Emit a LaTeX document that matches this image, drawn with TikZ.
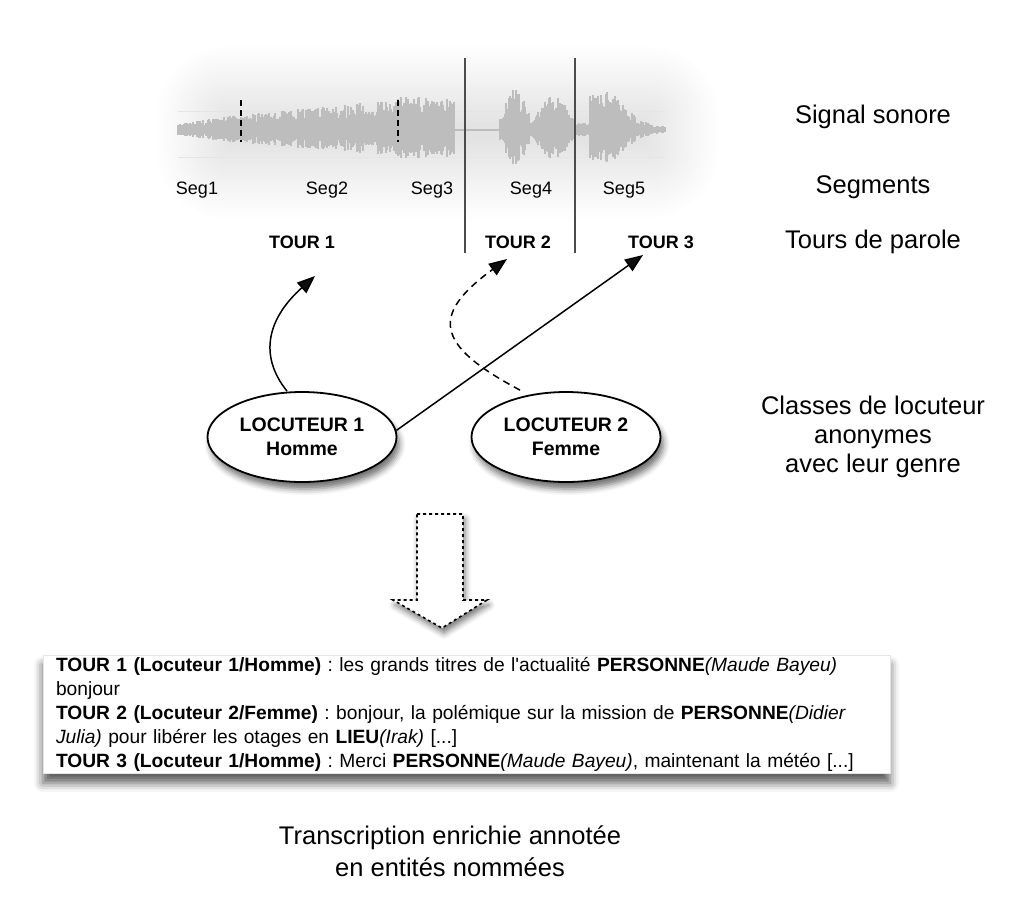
\documentclass[tikz,border=0pt]{standalone}
\usepackage{fontspec}
\setmainfont{Liberation Sans}
\usetikzlibrary{arrows.meta,shapes.geometric,shadows.blur}
\tikzset{
  seglabel/.style={font=\fontsize{18}{22}\selectfont},
  tourlabel/.style={font=\fontsize{18}{22}\selectfont\bfseries},
  sidelabel/.style={font=\fontsize{25.5}{29}\selectfont,align=center},
  locuteur/.style={ellipse,draw,line width=1.8pt,fill=white,minimum width=189pt,minimum height=90pt,
    inner sep=0pt,align=center,font=\fontsize{19.5}{24}\selectfont\bfseries,
    blur shadow={shadow xshift=3pt,shadow yshift=-7pt,shadow blur radius=6pt,shadow opacity=55}},
  link/.style={line width=1.5pt,-{Triangle[length=18pt,width=14pt]}},
  cut/.style={line width=1.6pt,black!70},
  subcut/.style={line width=1.8pt,dash pattern=on 6pt off 4pt},
  wave/.style={line width=1.05pt,black!26},
  transbox/.style={fill=white,draw=black!10,line width=0.4pt,minimum width=847pt,minimum height=118pt,
    text width=821pt,align=left,inner sep=0pt,font=\fontsize{19.2}{24}\selectfont\frenchspacing,
    blur shadow={shadow xshift=0pt,shadow yshift=-10pt,shadow blur radius=9pt,shadow opacity=65}}
}
\newcommand{\tourtag}[1]{\textbf{#1}}
\newcommand{\entname}[2]{\textbf{#1}\textit{#2}}
\newcommand{\waveenv}[1]{%
  \ifnum#1<241 \pgfmathsetmacro\env{6+10*(#1-178)/63}\else
  \ifnum#1<398 \pgfmathsetmacro\env{16+14*(#1-241)/157}\else
  \ifnum#1<455 \pgfmathsetmacro\env{33}\else
  \ifnum#1<500 \pgfmathsetmacro\env{1.2}\else
  \ifnum#1<531 \pgfmathsetmacro\env{12+30*sin(180*(#1-500)/31)}\else
  \ifnum#1<575 \pgfmathsetmacro\env{8+26*sin(180*(#1-531)/44)}\else
  \ifnum#1<590 \pgfmathsetmacro\env{7}\else
  \pgfmathsetmacro\env{3+37*exp(-((#1-603)/30)^2)}\fi\fi\fi\fi\fi\fi\fi}
\begin{document}
\begin{tikzpicture}[x=1pt,y=-1pt]
  \useasboundingbox (0,0) rectangle (1024,906);
  \path[blur shadow={shadow xshift=0pt,shadow yshift=0pt,shadow blur radius=40pt,shadow blur steps=40,
    shadow blur extra rounding=30pt,shadow opacity=11}] (195,85) rectangle (680,180);
  \draw[black!10,line width=0.5pt] (178,111) -- (665,111) (178,157) -- (665,157);
  \pgfmathsetseed{4711}
  \foreach \x in {178,...,665}{
    \waveenv{\x}
    \pgfmathsetmacro\a{\env*(0.45+0.55*rnd)}
    \draw[wave] (\x,{130-\a}) -- (\x,{130+0.85*\a});
  }
  \draw[subcut] (241,100) -- (241,142);
  \draw[subcut] (398,100) -- (398,142);
  \draw[cut] (465,58) -- (465,253);
  \draw[cut] (575,58) -- (575,253);
  \node[seglabel] (seg1) at (197,190) {Seg1};
  \node[seglabel] (seg2) at (327,190) {Seg2};
  \node[seglabel] (seg3) at (432,190) {Seg3};
  \node[seglabel] (seg4) at (531,190) {Seg4};
  \node[seglabel] (seg5) at (624,190) {Seg5};
  \node[tourlabel] (tour1) at (302,242) {TOUR 1};
  \node[tourlabel] (tour2) at (518,242) {TOUR 2};
  \node[tourlabel] (tour3) at (661,242) {TOUR 3};
  \node[sidelabel] (signal) at (873,117) {Signal sonore};
  \node[sidelabel] (segs) at (873,187) {Segments};
  \node[sidelabel] (tours) at (873,242) {Tours de parole};
  \node[sidelabel] (classes) at (873,437) {Classes de locuteur\\anonymes\\avec leur genre};
  \node[locuteur] (loc1) at (302,437) {LOCUTEUR 1\\Homme};
  \node[locuteur] (loc2) at (566,437) {LOCUTEUR 2\\Femme};
  \coordinate (in1) at (315,276);
  \coordinate (in2) at (507,259);
  \coordinate (in3) at (643,255);
  \draw[link] (loc1.north) ++(-15,0) .. controls (258,355) and (268,318) .. (in1);
  \draw[link,dash pattern=on 7pt off 5pt] (loc2.north) ++(-46,-1) .. controls (435,345) and (430,315) .. (in2);
  \draw[link] (loc1.4) -- (in3);
  \draw[fill=white,line width=1.6pt,dash pattern=on 3pt off 3pt,
    blur shadow={shadow xshift=2pt,shadow yshift=-5pt,shadow blur radius=6pt,shadow opacity=55}]
    (417,514) -- (463,514) -- (463,600) -- (487,600) -- (442,628) -- (393,600) -- (417,600) -- cycle;
  \node[transbox] (trans) at (466.5,714) {%
    \tourtag{TOUR 1 (Locuteur 1/Homme)} : les grands titres de l\textquotesingle actualité \entname{PERSONNE}{(Maude Bayeu)}\\
    bonjour\\
    \tourtag{TOUR 2 (Locuteur 2/Femme)} : bonjour, la polémique sur la mission de \entname{PERSONNE}{(Didier}\\
    \textit{Julia)} pour libérer les otages en \entname{LIEU}{(Irak)} [...]\\
    \tourtag{TOUR 3 (Locuteur 1/Homme)} : Merci \entname{PERSONNE}{(Maude Bayeu)}, maintenant la météo [...]};
  \node[sidelabel,align=center,font=\fontsize{25.5}{32}\selectfont] (caption) at (450,851) {Transcription enrichie annotée\\en entités nommées};
\end{tikzpicture}
\end{document}
